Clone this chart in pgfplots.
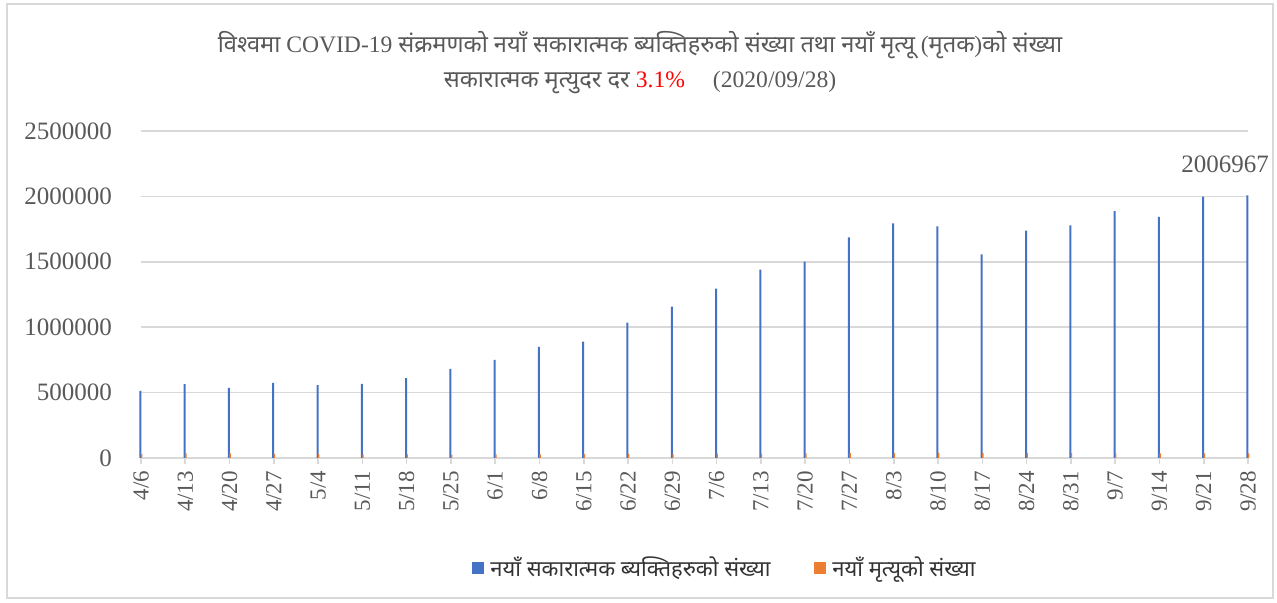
\documentclass[border=0pt]{standalone}
\usepackage{fontspec}
\setmainfont{Liberation Serif}
\newfontfamily\deva[Script=Devanagari,WordSpace=1.8]{Noto Sans}
\newfontfamily\devat[Script=Devanagari]{Noto Sans}
\usepackage{pgfplots}
\pgfplotsset{compat=1.18}
\definecolor{cblue}{HTML}{4472C4}
\definecolor{corange}{HTML}{ED7D31}
\definecolor{cgrid}{HTML}{D9D9D9}
\definecolor{ctext}{HTML}{595959}
\begin{document}
\begin{tikzpicture}
\useasboundingbox (-70.5pt,-72.5pt) rectangle (568pt,229pt);
\draw[cgrid, line width=0.8pt] (-67pt,-70pt) rectangle (566pt,227pt);
\begin{axis}[
  at={(0pt,0pt)}, anchor=origin,
  scale only axis, width=553.5pt, height=163.5pt,
  ybar, bar width=1pt,
  xmin=0, xmax=25, ymin=0, ymax=2500000,
  enlarge x limits=false, clip=false,
  xtick={0,...,25},
  xticklabels={4/6,4/13,4/20,4/27,5/4,5/11,5/18,5/25,6/1,6/8,6/15,6/22,6/29,7/6,7/13,7/20,7/27,8/3,8/10,8/17,8/24,8/31,9/7,9/14,9/21,9/28},
  ytick={0,500000,1000000,1500000,2000000,2500000},
  yticklabels={0,500000,1000000,1500000,2000000,2500000},
  scaled y ticks=false,
  axis lines*=left,
  x axis line style={draw=cgrid, line width=0.8pt},
  y axis line style={draw=none},
  ymajorgrids, grid style={cgrid, line width=0.8pt},
  xtick style={draw=cgrid, line width=0.8pt},
  ytick style={draw=none},
  tick align=outside, major tick length=3pt,
  xticklabel style={rotate=90, anchor=east, font=\fontsize{11.5}{12}\selectfont, text=ctext},
  yticklabel style={font=\fontsize{12.5}{13}\selectfont, text=ctext, xshift=-8pt},
  legend style={at={(0.5285,-0.336)}, anchor=center, draw=none, legend columns=2,
    font=\deva\fontsize{11}{12}\selectfont, text=black!80,
    /tikz/every even column/.append style={column sep=20pt},
    /tikz/every odd column/.append style={column sep=1pt}},
  legend image code/.code={\fill[#1] (0pt,-3pt) rectangle (6pt,3pt);},
]
\addplot[fill=cblue, draw=none, bar shift=-0.3pt] coordinates {
(0,513000) (1,565000) (2,536000) (3,575000) (4,557000) (5,567000) (6,611000) (7,682000)
(8,751000) (9,850000) (10,889000) (11,1034000) (12,1157000) (13,1295000) (14,1440000)
(15,1502000) (16,1686000) (17,1793000) (18,1770000) (19,1556000) (20,1739000) (21,1778000)
(22,1888000) (23,1844000) (24,1998000) (25,2006967)};
\addplot[fill=corange, draw=none, bar shift=0.3pt, bar width=0.7pt] coordinates {
(0,30000) (1,36000) (2,36000) (3,32000) (4,30000) (5,28000) (6,27000) (7,26000)
(8,27000) (9,28000) (10,29000) (11,31000) (12,32000) (13,33000) (14,34000)
(15,36000) (16,37000) (17,38000) (18,39000) (19,38000) (20,37000) (21,37000)
(22,36000) (23,35000) (24,35000) (25,35000)};
\legend{नयाँ सकारात्मक ब्यक्तिहरुको संख्या, नयाँ मृत्यूको संख्या}
\node[anchor=south, font=\fontsize{12.5}{14}\selectfont, text=ctext] at ([xshift=-11.5pt,yshift=8pt]axis cs:25,2006967) {2006967};
\end{axis}
\node[text=ctext, font=\fontsize{11.8}{13}\selectfont] at (249.5pt,206.5pt)
  {{\devat विश्वमा} COVID-19 {\devat संक्रमणको नयाँ सकारात्मक ब्यक्तिहरुको संख्या तथा नयाँ मृत्यू} ({\devat मृतक}){\devat को संख्या}};
\node[text=ctext, font=\fontsize{11.8}{13}\selectfont] at (249.5pt,188pt)
  {{\devat सकारात्मक मृत्युदर दर} \textcolor{red}{3.1\%}\hspace{14pt}(2020/09/28)};
\end{tikzpicture}
\end{document}
